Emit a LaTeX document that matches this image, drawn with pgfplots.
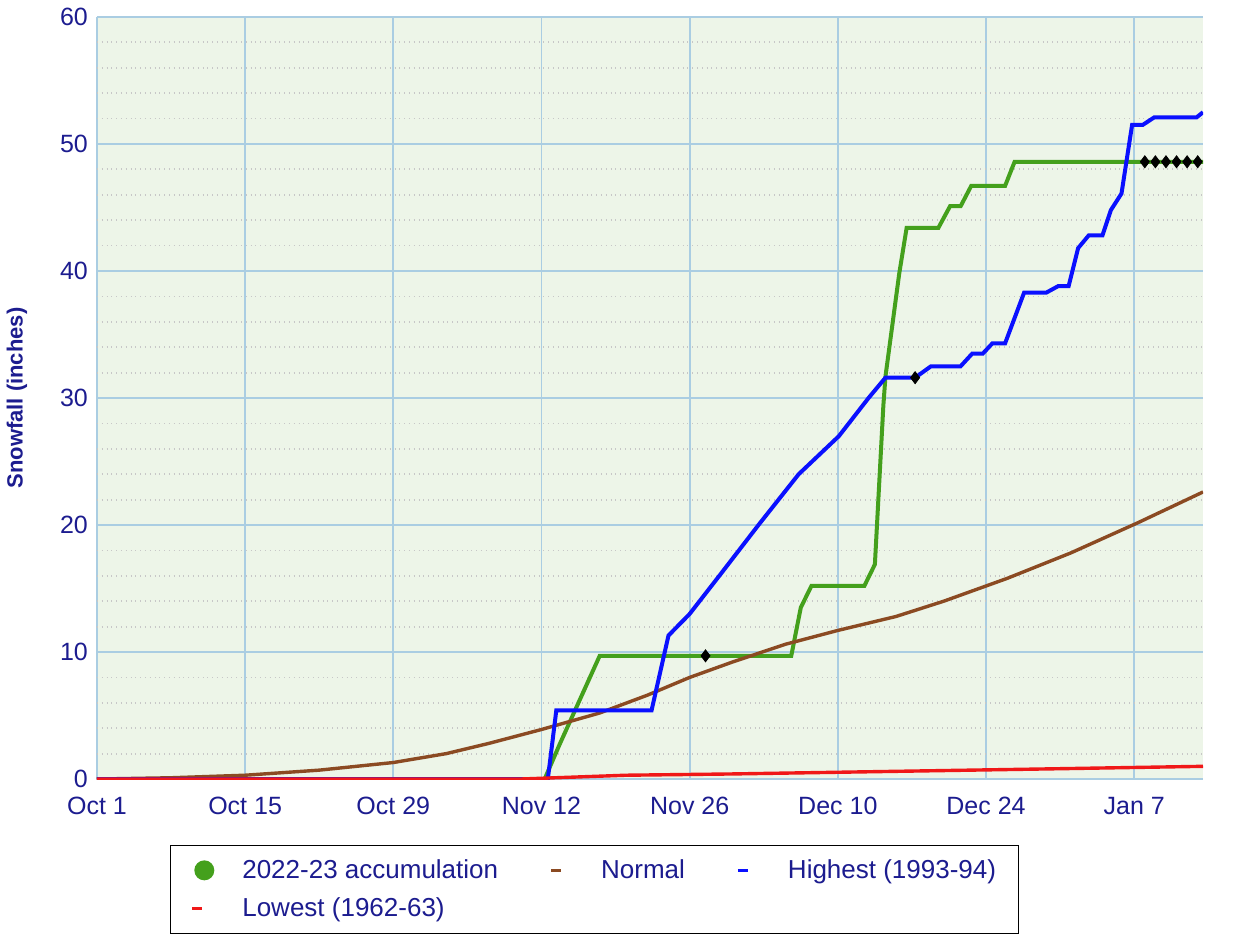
\documentclass[border=0pt]{standalone}
\usepackage{pgfplots}
\pgfplotsset{compat=1.18}
\usepackage{fontspec}
\setmainfont{Liberation Sans}
\definecolor{navy}{HTML}{1C1C8F}
\definecolor{accgreen}{HTML}{44A01C}
\definecolor{bggreen}{HTML}{EDF5E8}
\definecolor{normbrown}{HTML}{8B4A22}
\definecolor{highblue}{HTML}{0A10FF}
\definecolor{lowred}{HTML}{F01818}
\definecolor{gridblue}{HTML}{AACDE2}
\begin{document}
\begin{tikzpicture}
\begin{axis}[
  scale only axis, width=553pt, height=381pt,
  xmin=0, xmax=104.5, ymin=0, ymax=60,
  xtick={0,14,28,42,56,70,84,98},
  xticklabels={Oct 1,Oct 15,Oct 29,Nov 12,Nov 26,Dec 10,Dec 24,Jan 7},
  ytick={0,10,20,30,40,50,60},
  minor y tick num=4,
  xmajorgrids, ymajorgrids, yminorgrids,
  major grid style={draw=gridblue, line width=0.9pt},
  minor grid style={draw=black!22, dotted, line width=0.9pt},
  axis line style={draw=none},
  major tick style={draw=none}, minor tick style={draw=none},
  axis background/.style={fill=bggreen},
  /pgf/number format/assume math mode=true,
  ticklabel style={font=\fontsize{12.5}{14}\selectfont, text=navy},
  xticklabel style={yshift=-5.5pt},
  yticklabel style={xshift=-1pt},
  ylabel={Snowfall (inches)},
  ylabel style={at={(rel axis cs:0,0.5)}, anchor=center, rotate=0, yshift=40pt,
    font=\fontsize{11}{13}\selectfont\bfseries, text=navy},
  legend columns=3,
  legend cell align=left,
  legend image code/.code={%
    \path[draw=none,fill=none] (0,0) -- (25pt,0);
    \draw[#1, line width=1.6pt] (2pt,0) -- (7pt,0);},
  legend style={at={(rel axis cs:0.066,-0.0866)}, anchor=north west,
    draw=black, font=\fontsize{13}{15}\selectfont, text=navy,
    inner xsep=9pt, inner ysep=5pt, row sep=4pt,
    /tikz/every even column/.append style={column sep=22.5pt}},
]
% 2022-23 accumulation
\addplot[accgreen, line width=2pt, legend image code/.code={\path[draw=none,fill=none] (0,0) -- (25pt,0); \fill[accgreen, draw=none] (8pt,0) circle (5pt);}] coordinates {
(0,0) (42.3,0) (43.7,2.7) (47.5,9.7) (65.6,9.7) (66.5,13.5) (67.5,15.2)
(72.5,15.2) (73.5,16.9) (74.3,29.4) (74.5,31.7) (75.8,39.8) (76.5,43.4)
(79.5,43.4) (80.6,45.1) (81.6,45.1) (82.6,46.7) (85.8,46.7) (86.7,48.6)
(104.5,48.6)};
\addlegendentry{2022-23 accumulation}
% Normal
\addplot[normbrown, line width=1.7pt] coordinates {
(0,0) (7,0.1) (14,0.3) (21,0.7) (28,1.3) (33,2.0) (37,2.8) (42,3.9)
(47.5,5.2) (52,6.6) (56,8.0) (60,9.2) (65,10.6) (70,11.7) (75.5,12.8)
(80,14.0) (86,15.8) (92,17.8) (98.4,20.2) (104.5,22.6)};
\addlegendentry{Normal}
% Highest
\addplot[highblue, line width=2pt] coordinates {
(0,0) (42.6,0) (43.4,5.4) (52.4,5.4) (54.0,11.3) (56,13) (58.8,16)
(62.5,20) (66.3,24) (70.1,27) (72.9,30) (74.5,31.6) (77.3,31.6)
(78.8,32.5) (81.6,32.5) (82.7,33.5) (83.7,33.5) (84.6,34.3) (85.8,34.3)
(87.6,38.3) (89.7,38.3) (90.8,38.8) (91.8,38.8) (92.7,41.8) (93.7,42.8)
(95.0,42.8) (95.8,44.8) (96.8,46.1) (97.8,51.5) (98.8,51.5) (99.9,52.1)
(103.9,52.1) (104.5,52.5)};
\addlegendentry{Highest (1993-94)}
% Lowest
\addplot[lowred, line width=1.7pt] coordinates {
(0,0) (40,0) (50,0.3) (60,0.4) (75,0.6) (90,0.8) (104.5,1.0)};
\addlegendentry{Lowest (1962-63)}
% markers
\addplot[only marks, mark=diamond*, mark size=3pt, black, forget plot] coordinates {
(57.5,9.7) (77.3,31.6) (99,48.6) (100,48.6) (101,48.6) (102,48.6) (103,48.6) (104,48.6)};
\end{axis}
\path (current axis.south east) ++(19pt,0);
\path (current axis.north) ++(0,8.5pt);
\end{tikzpicture}
\end{document}
